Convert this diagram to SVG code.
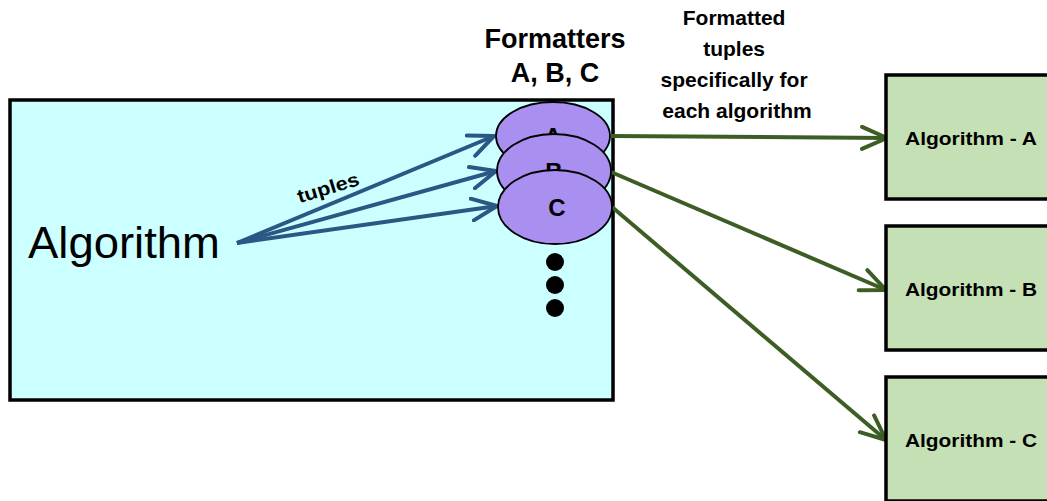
<svg xmlns="http://www.w3.org/2000/svg" width="1047" height="501" viewBox="0 0 1047 501">
<style>
.t{font-family:"Liberation Sans",Arial,sans-serif;fill:#000}
.b{font-weight:bold}
.box{fill:#c5e0b4;stroke:#000;stroke-width:3.5}
.fmt{fill:#a98ff0;stroke:#000;stroke-width:1.8}
.blue{stroke:#2a5783;stroke-width:4;fill:none;marker-end:url(#ab)}
.green{stroke:#3c5e25;stroke-width:4;fill:none;marker-end:url(#ag)}
</style>
<defs>
<marker id="ab" markerUnits="userSpaceOnUse" viewBox="-2 -2 30 26" markerWidth="30" markerHeight="26" refX="25" refY="11" orient="auto">
<path d="M0,0 L25,11 L0,22" fill="none" stroke="#2a5783" stroke-width="4" stroke-linecap="round" stroke-linejoin="round"/>
</marker>
<marker id="ag" markerUnits="userSpaceOnUse" viewBox="-2 -2 30 26" markerWidth="30" markerHeight="26" refX="25" refY="11" orient="auto">
<path d="M0,0 L25,11 L0,22" fill="none" stroke="#3c5e25" stroke-width="4" stroke-linecap="round" stroke-linejoin="round"/>
</marker>
</defs>
<rect width="1047" height="501" fill="#fff"/>
<g id="algorithm">
<rect x="10" y="100" width="603" height="300" fill="#ccffff" stroke="#000" stroke-width="3.5"/>
<text class="t" x="28" y="258" font-size="45" textLength="192" lengthAdjust="spacingAndGlyphs">Algorithm</text>
</g>
<g id="connectors">
<line class="blue" x1="237" y1="243" x2="494" y2="136"/>
<line class="blue" x1="237" y1="243" x2="496" y2="171"/>
<line class="blue" x1="237" y1="243" x2="497" y2="206"/>
<line class="green" x1="611" y1="136" x2="887" y2="138"/>
<line class="green" x1="611" y1="172" x2="886" y2="290"/>
<line class="green" x1="612" y1="207" x2="886" y2="440"/>
<text class="t b" font-size="19" transform="translate(330,194) rotate(-17)" text-anchor="middle" textLength="64" lengthAdjust="spacingAndGlyphs">tuples</text>
</g>
<g id="formatter-a">
<ellipse class="fmt" cx="553" cy="136" rx="57" ry="34"/>
<text class="t b" x="553" y="145" font-size="24" text-anchor="middle">A</text>
</g>
<g id="formatter-b">
<ellipse class="fmt" cx="554" cy="171" rx="57" ry="37"/>
<text class="t b" x="554" y="180" font-size="24" text-anchor="middle">B</text>
</g>
<g id="formatter-c">
<ellipse class="fmt" cx="555" cy="207" rx="57" ry="37"/>
<text class="t b" x="557" y="216" font-size="24" text-anchor="middle">C</text>
</g>
<g id="more">
<circle cx="555" cy="262" r="9" fill="#000"/>
<circle cx="555" cy="285" r="9" fill="#000"/>
<circle cx="555" cy="308" r="9" fill="#000"/>
</g>
<g id="formatters-label">
<text class="t b" x="555" y="48" font-size="27" text-anchor="middle">Formatters</text>
<text class="t b" x="555" y="82" font-size="27" text-anchor="middle">A, B, C</text>
</g>
<g id="formatted-label">
<text class="t b" font-size="21" text-anchor="middle">
<tspan x="737" y="25">Formatted</tspan>
<tspan x="737" y="56">tuples</tspan>
<tspan x="737" y="87">specifically for</tspan>
<tspan x="737" y="118">each algorithm</tspan>
</text>
</g>
<g id="algorithm-a">
<rect class="box" x="886" y="75" width="180" height="124"/>
<text class="t b" x="971" y="145" font-size="18" text-anchor="middle" textLength="132" lengthAdjust="spacingAndGlyphs">Algorithm - A</text>
</g>
<g id="algorithm-b">
<rect class="box" x="886" y="226" width="180" height="124"/>
<text class="t b" x="971" y="296" font-size="18" text-anchor="middle" textLength="132" lengthAdjust="spacingAndGlyphs">Algorithm - B</text>
</g>
<g id="algorithm-c">
<rect class="box" x="886" y="377" width="180" height="124"/>
<text class="t b" x="971" y="447" font-size="18" text-anchor="middle" textLength="132" lengthAdjust="spacingAndGlyphs">Algorithm - C</text>
</g>
</svg>
